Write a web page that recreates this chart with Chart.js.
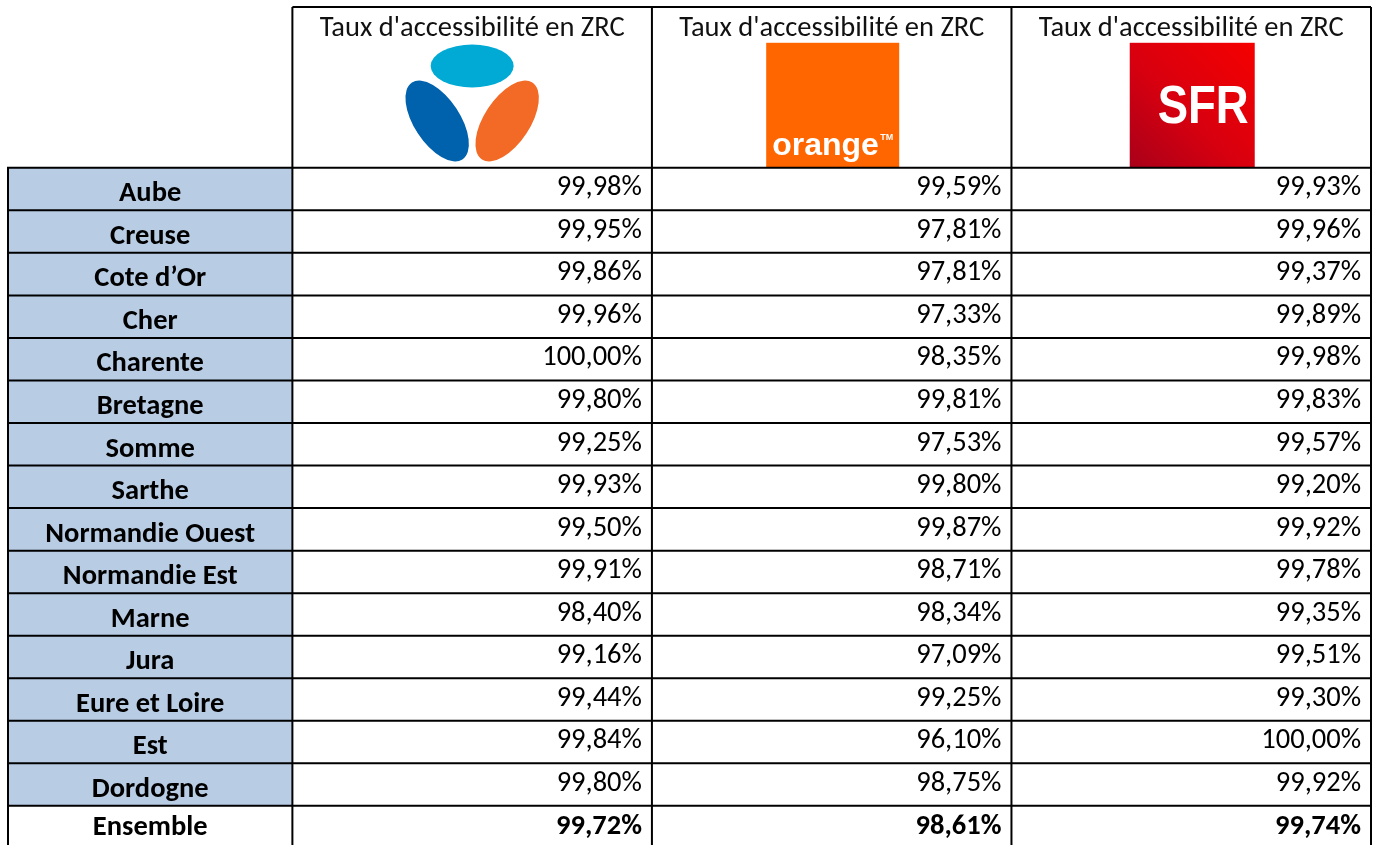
<!DOCTYPE html>
<html>
<head>
<meta charset="utf-8">
<script src="https://cdn.jsdelivr.net/npm/chart.js@4/dist/chart.umd.min.js"></script>
<style>
html,body{margin:0;padding:0;background:#fff;overflow:hidden;}
#wrap{position:relative;width:1381px;height:845px;}
</style>
</head>
<body>
<div id="wrap"><canvas id="c"></canvas></div>
<script>
// ---- data ----
const headerText = "Taux d'accessibilité en ZRC";
const operators = ['Bouygues Telecom', 'Orange', 'SFR'];
const regions = ['Aube','Creuse','Cote d’Or','Cher','Charente','Bretagne','Somme','Sarthe','Normandie Ouest','Normandie Est','Marne','Jura','Eure et Loire','Est','Dordogne'];
const bouygues = [99.98,99.95,99.86,99.96,100.00,99.80,99.25,99.93,99.50,99.91,98.40,99.16,99.44,99.84,99.80];
const orange   = [99.59,97.81,97.81,97.33,98.35,99.81,97.53,99.80,99.87,98.71,98.34,97.09,99.25,96.10,98.75];
const sfr      = [99.93,99.96,99.37,99.89,99.98,99.83,99.57,99.20,99.92,99.78,99.35,99.51,99.30,100.00,99.92];
const totalLabel = 'Ensemble';
const totals   = [99.72, 98.61, 99.74];

// ---- table geometry in scale units ----
const LABEL_W = 0.791;   // label column width relative to a data column
const HEADER_H = 3.78;   // header height in row units
const LAST_ROW = regions.length; // index of Ensemble row
const Y_MAX = LAST_ROW + 0.92;

const FONT = "'Carlito', 'Lato', sans-serif";
const FS = 28.5;
const fmt = v => v.toFixed(2).replace('.', ',') + '%';
const series = [bouygues, orange, sfr];

const datasets = series.map((vals, j) => ({
  label: operators[j],
  data: vals.map((v, i) => ({x: j + 0.5, y: i + 0.5, v: v, bold: false}))
        .concat([{x: j + 0.5, y: LAST_ROW + 0.5, v: totals[j], bold: true}]),
  pointRadius: 0, showLine: false
}));
datasets.push({
  label: 'labels',
  data: regions.map((r, i) => ({x: -LABEL_W / 2, y: i + 0.5, t: r, fill: true}))
        .concat([{x: -LABEL_W / 2, y: LAST_ROW + 0.5, t: totalLabel, fill: false}]),
  pointRadius: 0, showLine: false
});

function drawBouygues(ctx, cx, top) {
  ctx.save();
  ctx.fillStyle = '#00AAD4';
  ctx.beginPath(); ctx.ellipse(cx, top + 22, 41.5, 21.5, 0, 0, Math.PI * 2); ctx.fill();
  ctx.fillStyle = '#0061AC';
  ctx.beginPath(); ctx.ellipse(cx - 35, top + 77, 23, 46, -0.58, 0, Math.PI * 2); ctx.fill();
  ctx.fillStyle = '#F26A25';
  ctx.beginPath(); ctx.ellipse(cx + 35, top + 77, 23, 46, 0.58, 0, Math.PI * 2); ctx.fill();
  ctx.restore();
}
function drawOrange(ctx, cx, bottom) {
  ctx.save();
  const w = 133, h = 125, x = cx - w / 2 + 1, y = bottom - h;
  ctx.fillStyle = '#FF6600';
  ctx.fillRect(x, y, w, h);
  ctx.fillStyle = '#fff';
  ctx.font = "bold 32px 'Liberation Sans', Arial, sans-serif";
  ctx.textBaseline = 'alphabetic'; ctx.textAlign = 'left';
  ctx.fillText('orange', x + 6, y + 112);
  ctx.font = "bold 9px 'Liberation Sans', Arial, sans-serif";
  ctx.fillText('TM', x + 114, y + 97);
  ctx.restore();
}
function drawSFR(ctx, cx, bottom) {
  ctx.save();
  const w = 125, h = 125, x = cx - w / 2 + 1, y = bottom - h;
  const g = ctx.createLinearGradient(x, y + h, x + w, y);
  g.addColorStop(0, '#A8001A');
  g.addColorStop(0.45, '#D8000F');
  g.addColorStop(1, '#F50000');
  ctx.fillStyle = g;
  ctx.fillRect(x, y, w, h);
  ctx.fillStyle = '#fff';
  ctx.font = "bold 53px 'Liberation Sans', Arial, sans-serif";
  ctx.textBaseline = 'alphabetic'; ctx.textAlign = 'left';
  const tw = ctx.measureText('SFR').width;
  ctx.translate(x + 28, y + 80);
  ctx.scale(91 / tw, 1);
  ctx.fillText('SFR', 0, 0);
  ctx.restore();
}

const tablePlugin = {
  id: 'table',
  beforeDatasetsDraw(chart) {
    const {ctx, scales: {x, y}} = chart;
    const L = x.getPixelForValue(-LABEL_W), X0 = x.getPixelForValue(0);
    const R = x.getPixelForValue(3);
    const T = y.getPixelForValue(-HEADER_H), H0 = y.getPixelForValue(0);
    const B = y.getPixelForValue(Y_MAX);
    ctx.save();
    // label backgrounds
    ctx.fillStyle = '#B8CCE4';
    regions.forEach((r, i) => {
      const a = y.getPixelForValue(i), b = y.getPixelForValue(i + 1);
      ctx.fillRect(L, a, X0 - L, b - a);
    });
    // logos
    drawBouygues(ctx, (x.getPixelForValue(0) + x.getPixelForValue(1)) / 2, T + 37);
    drawOrange(ctx, (x.getPixelForValue(1) + x.getPixelForValue(2)) / 2, H0);
    drawSFR(ctx, (x.getPixelForValue(2) + x.getPixelForValue(3)) / 2, H0);
    // borders
    ctx.strokeStyle = '#000';
    ctx.lineWidth = 2;
    ctx.beginPath();
    ctx.moveTo(X0, T); ctx.lineTo(R, T);
    for (let j = 0; j <= 3; j++) {
      const px = x.getPixelForValue(j);
      ctx.moveTo(px, T); ctx.lineTo(px, B + 2);
    }
    ctx.moveTo(L, H0); ctx.lineTo(L, B + 2);
    for (let i = 0; i <= LAST_ROW; i++) {
      const py = y.getPixelForValue(i);
      ctx.moveTo(L - 1, py); ctx.lineTo(R + 1, py);
    }
    ctx.stroke();
    // header text
    ctx.fillStyle = '#111';
    ctx.font = FS + 'px ' + FONT;
    ctx.textAlign = 'center';
    ctx.textBaseline = 'alphabetic';
    for (let j = 0; j < 3; j++) {
      const cx = (x.getPixelForValue(j) + x.getPixelForValue(j + 1)) / 2;
      ctx.fillText(headerText, cx, T + 29);
    }
    ctx.restore();
  },
  afterDatasetsDraw(chart) {
    const {ctx, scales: {x, y}} = chart;
    ctx.save();
    ctx.fillStyle = '#000';
    ctx.textBaseline = 'alphabetic';
    chart.data.datasets.forEach((ds, d) => {
      const meta = chart.getDatasetMeta(d);
      meta.data.forEach((el, k) => {
        const p = ds.data[k];
        const rowBottom = Math.min(y.getPixelForValue(p.y + 0.5), y.getPixelForValue(p.y - 0.5) + 42.5);
        if (p.t !== undefined) {
          ctx.font = 'bold ' + FS + 'px ' + FONT;
          ctx.textAlign = 'center';
          ctx.fillText(p.t, el.x, rowBottom - (p.fill ? 9 : 13));
        } else {
          ctx.font = (p.bold ? 'bold ' : '') + FS + 'px ' + FONT;
          ctx.textAlign = 'right';
          const right = x.getPixelForValue(p.x + 0.5) - 10;
          ctx.fillText(fmt(p.v), right, rowBottom - (p.bold ? 14 : 15));
        }
      });
    });
    ctx.restore();
  }
};

new Chart(document.getElementById('c'), {
  type: 'scatter',
  data: {datasets},
  options: {
    responsive: true,
    maintainAspectRatio: false,
    animation: false,
    events: [],
    layout: {padding: {left: 8, top: 7, right: 10, bottom: 0}},
    plugins: {legend: {display: false}, tooltip: {enabled: false}},
    scales: {
      x: {type: 'linear', display: false, min: -LABEL_W, max: 3},
      y: {type: 'linear', display: false, reverse: true, min: -HEADER_H, max: Y_MAX}
    }
  },
  plugins: [tablePlugin]
});
</script>
</body>
</html>
